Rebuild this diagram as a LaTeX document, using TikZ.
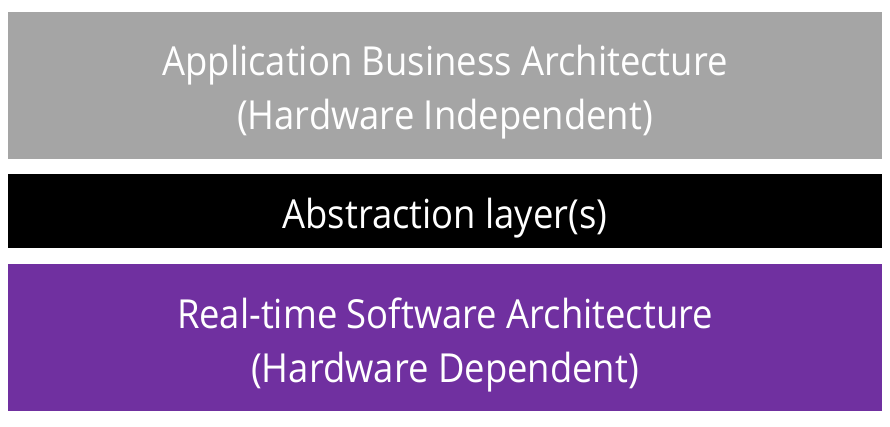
\documentclass[tikz,border=0pt]{standalone}
\usepackage{fontspec}
\setmainfont[FakeStretch=0.91]{Open Sans}
\usepackage{xcolor}
\definecolor{layergray}{HTML}{A5A5A5}
\definecolor{layerpurple}{HTML}{7030A0}

\begin{document}
\begin{tikzpicture}[x=1pt, y=-1pt,
			layer/.style={rectangle, inner sep=0pt, minimum width=874pt},
			layertext/.style={inner sep=0pt, text=white, align=center, font=\fontsize{40}{54}\selectfont, yshift=-7pt},
		]
		\useasboundingbox (0,0) rectangle (890,426);

		\node[layer, fill=layergray, minimum height=147pt,
			label={[layertext]center:Application Business Architecture\\(Hardware Independent)}] (app) at (445,85.5) {};
		\node[layer, fill=black, minimum height=74pt,
			label={[layertext]center:Abstraction layer(s)}] (abstr) at (445,211) {};
		\node[layer, fill=layerpurple, minimum height=147pt,
			label={[layertext]center:Real-time Software Architecture\\(Hardware Dependent)}] (rt) at (445,337.5) {};

		\end{tikzpicture}
\end{document}
